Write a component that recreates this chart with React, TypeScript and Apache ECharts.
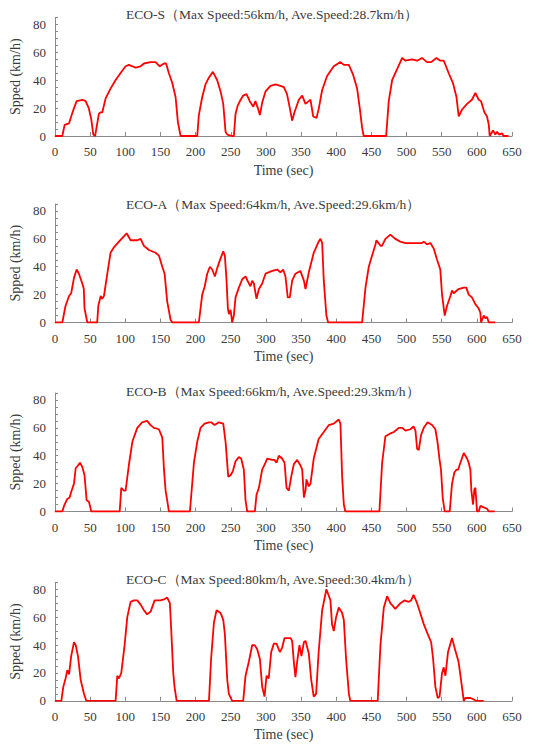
import React, { useEffect, useRef } from "react";
import * as echarts from "echarts";

const panelTitles = [
  "ECO-S（Max Speed:56km/h, Ave.Speed:28.7km/h）",
  "ECO-A（Max Speed:64km/h, Ave.Speed:29.6km/h）",
  "ECO-B（Max Speed:66km/h, Ave.Speed:29.3km/h）",
  "ECO-C（Max Speed:80km/h, Ave.Speed:30.4km/h）",
];

const yAxisName = "Spped (km/h)";
const xAxisName = "Time (sec)";

const ecoSTime = [0, 10.4, 13.7, 19.9, 23, 27, 30.8, 38.9, 43.6, 48, 51.6, 54.5, 57, 58.7, 62.5, 65, 67.3, 72, 79, 86, 93, 100.4, 105, 110, 114.7, 121.8, 126.5, 136, 143, 149, 155, 158, 162, 166.8, 171.5, 174.8, 178.6, 202.3, 204.6, 209.4, 214, 219, 224.6, 230.7, 235.5, 239.3, 242.6, 245, 252, 254.4, 256.8, 260, 264, 267.7, 272.4, 277, 282, 285, 288.5, 291.4, 294.7, 299.4, 306.5, 313.6, 320.7, 325.5, 330, 334, 337.3, 340.6, 346.8, 351.6, 356.3, 361, 363.4, 367.2, 372, 375.3, 380, 387, 396.5, 406, 410.8, 417.9, 424, 429.7, 433.5, 436.8, 439, 471, 474.7, 479.5, 486.6, 493.8, 498.4, 508, 515, 522, 529, 535, 542.5, 548, 553, 560, 566, 571, 574.2, 579, 586, 593, 597.9, 602.7, 606, 610.7, 614.5, 617, 618.3, 623, 626.3, 628.7, 632, 635.8, 638, 645];
const ecoSSpeed = [0, 0, 8, 9, 14, 20, 25, 26, 25, 20, 12, 1, 0, 5, 16, 17, 17, 27, 34, 40, 45, 50, 51, 50, 49, 50, 52, 53, 53, 50, 52, 52, 45, 38, 28, 10, 0, 0, 15, 28, 37, 42, 46, 40, 32, 23, 3, 1, 0, 0, 16, 22, 26, 29, 30, 25, 21, 25, 20, 15, 24, 32, 36, 37, 36, 35, 30, 20, 11, 17, 26, 29, 23, 25, 26, 14, 13, 20, 33, 43, 50, 53, 51, 51, 44, 34, 20, 6, 0, 0, 25, 40, 48, 56, 54, 55, 54, 56, 53, 53, 56, 54, 54, 45, 38, 28, 14, 19, 23, 26, 31, 26, 25, 17, 14, 8, 0, 4, 1, 3, 1, 2, 0, 0];

const ecoATime = [0, 10.4, 15, 20, 23, 27, 30.8, 34, 38.8, 41, 42, 46, 60, 61.6, 65, 67, 69.6, 74.4, 79, 83.9, 91, 101.9, 107.5, 117, 121.8, 126.5, 133.6, 143, 147.8, 152.6, 155.9, 159.6, 164.4, 166.8, 204.6, 209.4, 213, 216.5, 220.3, 223.6, 227.4, 230.7, 235.5, 239.3, 241.6, 244, 245.9, 247.3, 249.7, 252, 254.4, 256.8, 261.5, 266.3, 271, 275.7, 278, 280.5, 282.8, 286.6, 290, 294.7, 299.4, 309, 316, 320.7, 324.5, 327.8, 331, 334, 337.3, 342, 349, 354, 356.3, 361, 368, 375, 377.6, 380, 382.3, 386, 388.5, 436.8, 441.6, 446.3, 451, 455.8, 457.2, 463, 465, 470, 477, 484, 491, 498.4, 522, 524.5, 529, 534, 538.7, 543.4, 548, 550.5, 554.3, 557.6, 562.4, 564.7, 567, 574, 581.4, 585, 588.4, 593, 598, 602.7, 605, 606, 609.8, 612, 614.5, 617, 626.3];
const ecoASpeed = [0, 0, 12, 19, 21, 32, 38, 35, 28, 24, 10, 0, 0, 12, 19, 17, 19, 35, 50, 54, 58, 64, 59, 59, 60, 55, 52, 50, 48, 40, 35, 15, 2, 0, 0, 20, 26, 35, 40, 38, 33, 39, 46, 51, 48, 30, 10, 6, 9, 0, 5, 18, 25, 31, 33, 28, 26, 30, 28, 17, 24, 28, 35, 37, 38, 36, 38, 33, 18, 18, 30, 35, 37, 30, 24, 36, 50, 58, 60, 57, 30, 5, 0, 0, 25, 40, 48, 56, 59, 55, 55, 60, 63, 60, 58, 57, 57, 58, 56, 57, 53, 45, 38, 20, 5, 12, 19, 23, 21, 24, 25, 25, 20, 18, 13, 10, 7, 0, 5, 3, 4, 0, 0];

const ecoBTime = [0, 10.4, 12.8, 17.5, 20.8, 23, 27, 29.4, 32.7, 35.5, 38.8, 42, 45, 48.3, 51.6, 92, 94.3, 98, 100.4, 105, 110, 117, 124, 131, 136, 140.7, 147.8, 152.6, 155, 157.3, 159.6, 162, 191.9, 197.6, 202.3, 207, 212.7, 219, 222, 227, 233, 239.3, 242.6, 246.4, 249.7, 253, 256.8, 261.5, 264.8, 268.6, 271, 273.4, 284.3, 286.6, 290, 294.7, 299.4, 301.8, 309, 312, 315, 318.4, 323, 326.5, 329.3, 332.6, 336, 339.7, 344.4, 349.2, 351.6, 354, 356.3, 357.7, 361, 363.4, 368, 375, 382.3, 389.5, 396.5, 403.6, 406, 408.4, 410.8, 413, 461.4, 465.3, 470, 477, 482, 489, 493.8, 498.4, 505.6, 510, 512.7, 515, 517.4, 520.7, 524.5, 530, 536.3, 541, 544, 547, 549, 551.4, 554.3, 561.4, 564.7, 568, 571, 573.3, 576.6, 581.4, 586, 588.4, 590.8, 592.2, 594.6, 596.5, 597.9, 600.3, 602.7, 605, 609.8, 614.5, 617, 625.4];
const ecoBSpeed = [0, 0, 4, 9, 10, 14, 20, 31, 33, 35, 32, 26, 8, 7, 0, 0, 17, 15, 15, 33, 50, 60, 64, 65, 62, 60, 59, 53, 30, 15, 8, 0, 0, 35, 50, 60, 63, 64, 64, 62, 64, 63, 50, 25, 26, 29, 36, 39, 38, 30, 8, 0, 0, 12, 17, 30, 35, 38, 37, 37, 35, 40, 38, 35, 17, 15, 25, 34, 37, 33, 30, 10, 15, 23, 18, 20, 38, 52, 57, 62, 63, 66, 63, 25, 5, 0, 0, 35, 54, 56, 57, 60, 60, 58, 59, 61, 58, 45, 44, 55, 60, 64, 62, 59, 50, 37, 30, 10, 0, 0, 20, 28, 30, 30, 35, 42, 38, 35, 30, 15, 5, 16, 17, 0, 0, 4, 3, 2, 0, 0];

const ecoCTime = [0, 9, 11.8, 15, 17.5, 20, 23, 27, 29.4, 32.7, 36.5, 41.2, 44.5, 86.2, 88.6, 91, 94.3, 99, 102.8, 107.5, 112.3, 117, 121.8, 126.5, 131, 136, 141.7, 150, 155.9, 159.6, 163.4, 165.4, 168.2, 170, 173, 219, 222, 226, 229.8, 235.5, 239.3, 241.6, 245, 247.3, 252, 267.7, 271, 275.7, 280.5, 283.8, 287.6, 291.4, 294.7, 298, 300.9, 304, 307.5, 311.3, 315, 319.8, 323, 326.5, 335, 337.3, 339.7, 342, 344.4, 347.7, 350.5, 354, 356.3, 361, 364.4, 368, 371.4, 375, 380, 386, 391.8, 394, 396.5, 399.8, 403.6, 408.4, 410.8, 414, 418, 420, 459, 462.9, 467.7, 472.4, 477, 484, 491.3, 497, 503, 506.5, 510, 515, 519.5, 524.5, 530, 535, 537.8, 541, 544.4, 547, 550.5, 552.9, 555.3, 559, 564.7, 569.4, 574, 577.5, 581.4, 583.7, 590.8, 595.6, 599, 609.8];
const ecoCSpeed = [0, 0, 10, 16, 22, 19, 32, 42, 40, 32, 15, 5, 0, 0, 18, 16, 20, 40, 60, 71, 72, 72, 69, 65, 62, 64, 72, 72, 73, 74, 70, 50, 20, 10, 0, 0, 30, 56, 65, 63, 58, 48, 15, 5, 0, 0, 18, 28, 40, 40, 37, 30, 10, 3, 18, 16, 35, 41, 41, 35, 38, 45, 45, 43, 28, 17, 28, 40, 32, 42, 43, 34, 15, 3, 5, 35, 65, 80, 72, 55, 50, 60, 67, 63, 58, 30, 5, 0, 0, 40, 67, 75, 70, 66, 70, 72, 71, 72, 76, 70, 63, 55, 48, 42, 30, 10, 2, 3, 20, 24, 18, 35, 45, 36, 28, 15, 0, 2, 2, 1, 0, 0];

const xTicks = { min: 0, max: 650, interval: 50 };
const yTicks = { min: 0, max: 85, interval: 5, labelStep: 20 };

const seriesTimes = [ecoSTime, ecoATime, ecoBTime, ecoCTime];
const seriesSpeeds = [ecoSSpeed, ecoASpeed, ecoBSpeed, ecoCSpeed];

const gridTops = [17.5, 204, 393, 582.3];
const gridHeight = 118.5;
const titleCenters = [15, 205, 392, 580];

const FONT = "Liberation Serif";
const TEXT = "#3a3a3a";
const AXIS = "#8a8a8a";

export default function App() {
  const ref = useRef<HTMLDivElement>(null);
  useEffect(() => {
    if (!ref.current) return;
    const chart = echarts.init(ref.current, null, { renderer: "svg" });
    const idx = [0, 1, 2, 3];
    chart.setOption({
      animation: false,
      backgroundColor: "#ffffff",
      textStyle: { fontFamily: FONT },
      title: idx.map((i) => ({
        text: panelTitles[i],
        left: 126,
        top: titleCenters[i] - 8,
        padding: 0,
        textStyle: { fontFamily: FONT, fontSize: 13.5, fontWeight: "normal", color: TEXT },
      })),
      grid: idx.map((i) => ({
        left: 55,
        right: 35,
        top: gridTops[i],
        height: gridHeight,
      })),
      xAxis: idx.map((i) => ({
        type: "value",
        gridIndex: i,
        min: xTicks.min,
        max: xTicks.max,
        interval: xTicks.interval,
        name: xAxisName,
        nameLocation: "middle",
        nameGap: 27,
        nameTextStyle: { fontFamily: FONT, fontSize: 14, color: TEXT },
        axisLine: { show: true, lineStyle: { color: AXIS, width: 1 } },
        axisTick: { show: true, inside: true, length: 4, lineStyle: { color: AXIS } },
        axisLabel: { fontFamily: FONT, fontSize: 13, color: TEXT, margin: 9 },
        splitLine: { show: false },
      })),
      yAxis: idx.map((i) => ({
        type: "value",
        gridIndex: i,
        min: yTicks.min,
        max: yTicks.max,
        interval: yTicks.interval,
        name: yAxisName,
        nameLocation: "middle",
        nameGap: 31,
        nameTextStyle: { fontFamily: FONT, fontSize: 14, color: TEXT },
        axisLine: { show: true, lineStyle: { color: AXIS, width: 1 } },
        axisTick: { show: true, inside: true, length: 3, lineStyle: { color: AXIS } },
        axisLabel: {
          fontFamily: FONT,
          fontSize: 13,
          color: TEXT,
          margin: 9,
          formatter: (v: number) => (v % yTicks.labelStep === 0 ? String(v) : ""),
        },
        splitLine: { show: false },
      })),
      series: idx.map((i) => ({
        type: "line",
        xAxisIndex: i,
        yAxisIndex: i,
        data: seriesTimes[i].map((t, k) => [t, seriesSpeeds[i][k]]),
        showSymbol: false,
        lineStyle: { color: "#ff0000", width: 1.8 },
        itemStyle: { color: "#ff0000" },
      })),
    });
    return () => chart.dispose();
  }, []);
  return (
    <div
      ref={ref}
      style={{ position: "fixed", left: 0, top: 0, width: 547, height: 746 }}
    />
  );
}
